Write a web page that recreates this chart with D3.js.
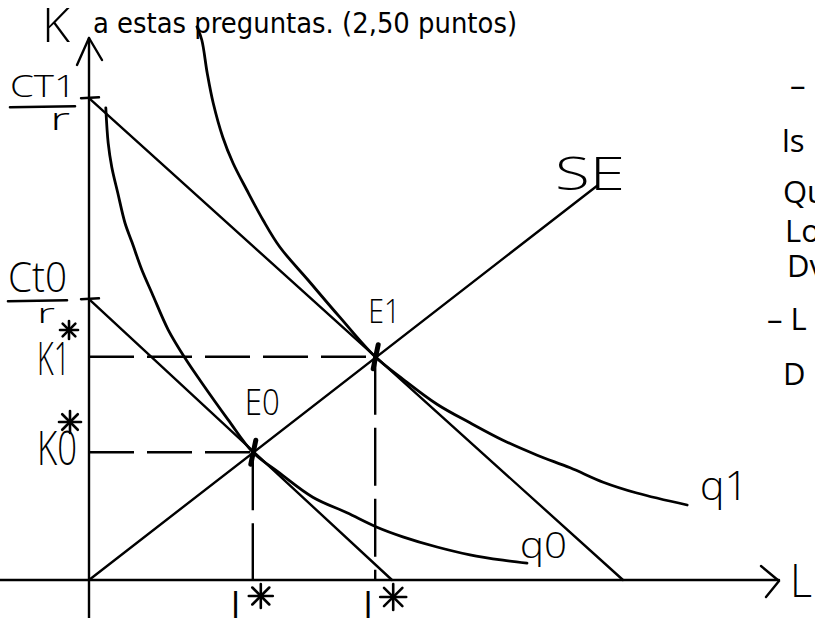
<!DOCTYPE html>
<html>
<head>
<meta charset="utf-8">
<script src="https://cdn.jsdelivr.net/npm/d3@7"></script>
<style>
  html, body { margin: 0; padding: 0; background: #fff; overflow: hidden; }
  svg { display: block; }
</style>
</head>
<body>
<svg id="chart" width="815" height="618"></svg>
<script>
// Producer equilibrium: two isocost lines, two isoquants, expansion path (SE)
// Quantities in (L, K) units.

const isoquantQ0L = [0.28, 0.32, 0.38, 0.48, 0.60, 0.72, 0.88, 1.05, 1.32, 1.60, 1.85, 2.32, 2.73, 3.18, 3.73, 4.30, 4.80, 5.23, 5.80, 6.35, 6.90, 7.30];
const isoquantQ0K = [7.87, 7.28, 6.88, 6.45, 5.95, 5.62, 5.17, 4.78, 4.17, 3.70, 3.33, 2.67, 2.13, 1.78, 1.38, 1.12, 0.88, 0.72, 0.55, 0.42, 0.33, 0.28];

const isoquantQ1L = [1.80, 1.88, 1.97, 2.07, 2.23, 2.40, 2.63, 2.90, 3.18, 3.65, 4.18, 4.77, 5.23, 5.80, 6.35, 6.90, 7.47, 8.02, 8.57, 9.13, 9.97];
const isoquantQ1K = [9.22, 9.00, 8.45, 7.95, 7.38, 6.95, 6.50, 6.00, 5.55, 5.00, 4.38, 3.72, 3.35, 2.93, 2.62, 2.33, 2.08, 1.87, 1.63, 1.45, 1.25];

// isocost intercepts: K = CT/r on the vertical axis, L = CT/w on the horizontal axis
const isocostNames = ["CT0", "CT1"];
const isocostK = [4.68, 8.03];
const isocostL = [5.05, 8.90];

// expansion path (senda de expansión) end point
const expansionEnd = [8.48, 6.58];

// equilibria
const equilibriumNames = ["E0", "E1"];
const equilibriumL = [2.73, 4.77];
const equilibriumK = [2.13, 3.72];

const headerText = "a estas preguntas. (2,50 puntos)";
const marginNotes = ["–", "ls", "Qu", "Lo", "Dv", "– L", "D"];

// ---------------------------------------------------------------
const svg = d3.select("#chart");
const x = d3.scaleLinear().domain([0, 10]).range([89, 689]);
const y = d3.scaleLinear().domain([0, 8]).range([580, 100]);

const hand = "'Open Sans', 'DejaVu Sans', sans-serif";
const ink = "#000";

const line = d3.line().x(d => x(d[0])).y(d => y(d[1]));
const smooth = d3.line().x(d => x(d[0])).y(d => y(d[1])).curve(d3.curveCatmullRom.alpha(0.5));

// header line of the page
svg.append("text")
  .attr("x", 93).attr("y", 33)
  .attr("font-family", "'DejaVu Sans', Verdana, sans-serif")
  .attr("font-size", 28.5)
  .attr("textLength", 424).attr("lengthAdjust", "spacingAndGlyphs")
  .attr("fill", ink)
  .text(headerText);

// axes
const gAxes = svg.append("g").attr("stroke", ink).attr("fill", "none")
  .attr("stroke-width", 2.4).attr("stroke-linecap", "round").attr("stroke-linejoin", "round");
gAxes.append("path").attr("d", line([[0, y.invert(618)], [0, y.invert(38)]]));
gAxes.append("path").attr("d", `M77,65 L${x(0)},38 L102,60`);
gAxes.append("path").attr("d", line([[x.invert(0), 0], [x.invert(779), 0]]));
gAxes.append("path").attr("d", `M761,566 L779,${y(0) + 1} L766,597`);

// isocost lines and their ticks on the K axis
const gCost = svg.append("g").attr("stroke", ink).attr("fill", "none")
  .attr("stroke-width", 2.4).attr("stroke-linecap", "round");
isocostK.forEach((k, i) => {
  gCost.append("path").attr("d", line([[0, k], [isocostL[i], 0]]));
  gCost.append("path").attr("d", `M${x(0) - 8},${y(k)} L${x(0) + 10},${y(k) - 1}`);
});

// expansion path
gCost.append("path").attr("d", line([[0, 0], expansionEnd]));

// isoquants
const gIso = svg.append("g").attr("stroke", ink).attr("fill", "none")
  .attr("stroke-width", 2.8).attr("stroke-linecap", "round");
gIso.append("path").attr("d", smooth(isoquantQ0L.map((l, i) => [l, isoquantQ0K[i]])));
gIso.append("path").attr("d", smooth(isoquantQ1L.map((l, i) => [l, isoquantQ1K[i]])));

// dashed guides from the equilibria to the axes
const gDash = svg.append("g").attr("stroke", ink).attr("fill", "none").attr("stroke-width", 2.4);
equilibriumL.forEach((l, i) => {
  const k = equilibriumK[i];
  gDash.append("path").attr("d", line([[0, k], [l, k]])).attr("stroke-dasharray", "45,13");
  gDash.append("path").attr("d", line([[l, k], [l, 0]])).attr("stroke-dasharray", "58,13");
  // equilibrium mark
  svg.append("path")
    .attr("d", `M${x(l) - 2},${y(k) + 12} L${x(l) + 3},${y(k) - 12}`)
    .attr("stroke", ink).attr("stroke-width", 5).attr("stroke-linecap", "round");
});

// hand-lettered labels
function label(txt, px, py, size, len, weight) {
  const t = svg.append("text").attr("x", px).attr("y", py)
    .attr("font-family", hand).attr("font-weight", weight || 300)
    .attr("font-size", size).attr("fill", ink).text(txt);
  if (len) t.attr("textLength", len).attr("lengthAdjust", "spacingAndGlyphs");
  return t;
}
function asterisk(cx, cy, r) {
  const g = svg.append("g").attr("stroke", ink).attr("stroke-width", 2.6).attr("stroke-linecap", "round");
  [0, 45, 90, 135].forEach(a => {
    const rad = a * Math.PI / 180;
    g.append("line")
      .attr("x1", cx - r * Math.cos(rad)).attr("y1", cy - r * Math.sin(rad))
      .attr("x2", cx + r * Math.cos(rad)).attr("y2", cy + r * Math.sin(rad));
  });
}
function fractionBar(x1, x2, py) {
  svg.append("path").attr("d", `M${x1},${py} L${x2},${py - 1}`)
    .attr("stroke", ink).attr("stroke-width", 2.6).attr("stroke-linecap", "round");
}

label("K", 42, 42, 48, 28);

// CT1 / r
label("CT1", 10, 97, 31, 66);
fractionBar(10, 75, y(isocostK[1]) + 9);
label("r", 50, 130, 32, 20);

// CT0 / r
label("Ct0", 8, 292, 42, 59);
fractionBar(8, 67, y(isocostK[0]) + 2);
label("r", 37, 323, 28, 18);

// K1*, K0*
asterisk(69, 330, 9);
label("K1", 37, y(equilibriumK[1]) + 18, 46, 33);
asterisk(70, 422, 11);
label("K0", 37, y(equilibriumK[0]) + 13, 48, 40);

// equilibrium names
label(equilibriumNames[1], x(equilibriumL[1]) - 7, 323, 33, 32);
label(equilibriumNames[0], x(equilibriumL[0]) - 8, 415, 36, 35);

// expansion path name, isoquant names, L axis name
label("SE", 555, 190, 46, 70);
label("q1", 700, 500, 40, 48);
label("q0", 520, 558, 36, 47);
label("L", 790, 597, 46, 22);

// L0*, L1* below the axis
label("L", x(equilibriumL[0]) - 22, 624, 46, 18, 400);
asterisk(x(equilibriumL[0]) + 8, 596, 12);
label("L", x(equilibriumL[1]) - 12, 624, 46, 18, 400);
asterisk(x(equilibriumL[1]) + 18, 597, 13);

// notes in the right margin
const noteX = [790, 782, 783, 785, 787, 767, 783];
const noteY = [96, 152, 203, 242, 277, 330, 385];
marginNotes.forEach((t, i) => label(t, noteX[i], noteY[i], 31, null, 400));
</script>
</body>
</html>
